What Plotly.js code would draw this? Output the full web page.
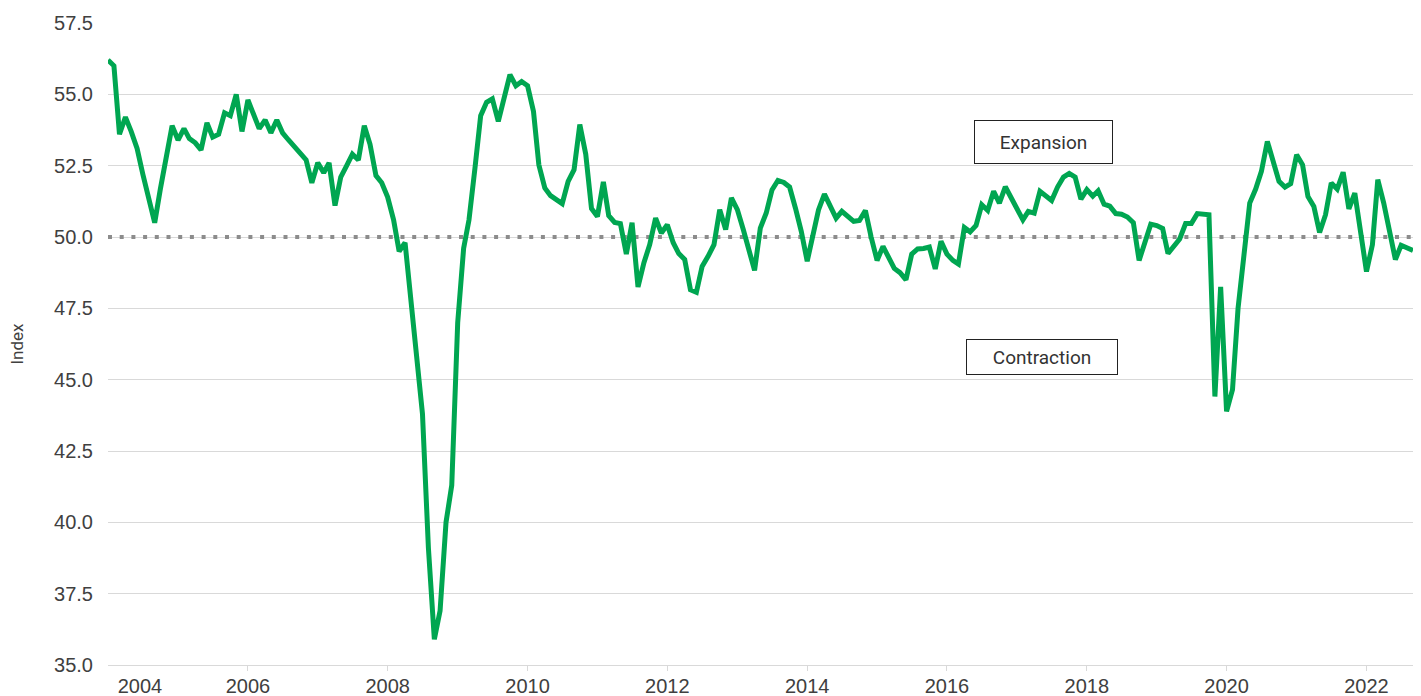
<!DOCTYPE html>
<html>
<head>
<meta charset="utf-8">
<script src="https://cdn.plot.ly/plotly-3.0.1.min.js"></script>
<style>
  html, body { margin: 0; padding: 0; background: #ffffff; }
  #chart { width: 1421px; height: 696px; }
</style>
</head>
<body>
<div id="chart"></div>
<script>
// ---- Data (monthly index readings) ----
const START_YEAR = 2004;
const pmiIndex = [
  56.2,56.0,53.6,54.2,53.7,53.1,52.2,51.3,50.5,51.7,52.8,53.9,
  53.4,53.8,53.45,53.3,53.05,54.0,53.5,53.6,54.35,54.25,55.0,53.7,
  54.8,54.3,53.8,54.1,53.65,54.1,53.65,53.4,53.15,52.95,52.7,51.9,
  52.6,52.25,52.6,51.1,52.1,52.5,52.9,52.7,53.9,53.25,52.15,51.9,
  51.4,50.6,49.5,49.8,47.8,45.9,43.8,39.1,35.9,36.9,40.0,41.3,
  47.0,49.6,50.6,52.4,54.25,54.72,54.84,54.05,54.81,55.69,55.3,55.45,
  55.3,54.4,52.53,51.72,51.45,51.28,51.17,51.95,52.36,53.94,52.9,51.0,
  50.72,51.93,50.75,50.51,50.47,49.4,50.5,48.25,49.1,49.73,50.66,50.14,
  50.43,49.8,49.42,49.21,48.15,48.06,48.97,49.32,49.73,50.96,50.26,51.37,
  50.96,50.26,49.5,48.83,50.31,50.84,51.65,51.98,51.91,51.75,51.0,50.2,
  49.15,50.2,50.95,51.5,51.1,50.66,50.9,50.7,50.55,50.58,50.93,50.0,
  49.18,49.67,49.32,48.9,48.75,48.5,49.4,49.58,49.6,49.65,48.88,49.85,
  49.4,49.18,49.05,50.33,50.18,50.4,51.13,50.93,51.6,51.19,51.76,51.38,
  50.92,50.6,50.9,50.84,51.6,51.45,51.28,51.75,52.1,52.23,52.1,51.33,
  51.66,51.43,51.62,51.15,51.08,50.82,50.8,50.7,50.5,49.18,49.8,50.45,
  50.4,50.3,49.42,49.67,49.93,50.47,50.47,50.82,50.78,50.78,44.41,48.25,
  43.89,44.65,47.5,49.6,51.19,51.68,52.3,53.35,52.65,51.95,51.75,51.87,
  52.88,52.53,51.42,51.07,50.16,50.78,51.89,51.68,52.27,50.99,51.54,50.2,
  48.79,49.73,52.01,51.19,50.14,49.21,49.71,49.62,49.53
];
const THRESHOLD = 50;
const xTickLabels = ['2004','2006','2008','2010','2012','2014','2016','2018','2020','2022'];
const yTickValues = [35, 37.5, 40, 42.5, 45, 47.5, 50, 52.5, 55, 57.5];
const yAxisTitle = 'Index';
const regionLabels = ['Expansion', 'Contraction'];

// ---- Build monthly date categories ----
const months = pmiIndex.map((_, i) => {
  const y = START_YEAR + Math.floor(i / 12);
  const m = (i % 12) + 1;
  return y + '-' + String(m).padStart(2, '0') + '-01';
});
const firstDate = months[0];
const lastDate = months[months.length - 1];

// Tick label positions (first label sits a little inside the plot, as in the reference)
const tickVals = xTickLabels.map((y, k) => k === 0 ? y + '-06-16' : y + '-01-01');
const minorTickVals = xTickLabels.slice(1).map(y => y + '-01-01');

const GREEN = '#00a651';
const GRID = '#d9d9d9';
const TEXT = '#404040';

const traces = [
  {
    type: 'scatter', mode: 'lines',
    x: [firstDate, lastDate],
    y: [THRESHOLD, THRESHOLD],
    line: { color: '#8c8c8c', width: 4, dash: '4px,7.7px' },
    hoverinfo: 'skip'
  },
  {
    type: 'scatter', mode: 'lines',
    x: months, y: pmiIndex,
    line: { color: GREEN, width: 5 },
    hoverinfo: 'skip'
  }
];

const layout = {
  width: 1421, height: 696,
  margin: { l: 108, r: 8, t: 23, b: 31, pad: 0 },
  paper_bgcolor: '#ffffff', plot_bgcolor: '#ffffff',
  showlegend: false,
  font: { family: '"Liberation Sans", Arial, sans-serif', size: 20, color: TEXT },
  xaxis: {
    type: 'date',
    range: [firstDate, lastDate],
    tickmode: 'array', tickvals: tickVals, ticktext: xTickLabels,
    ticks: '', showgrid: false, zeroline: false,
    showline: true, linecolor: GRID, linewidth: 1,
    ticklabelstandoff: 3,
    tickfont: { family: '"Liberation Sans", Arial, sans-serif', size: 20, color: TEXT },
    minor: { tickmode: 'array', tickvals: minorTickVals, ticks: 'outside', ticklen: 5, tickwidth: 1, tickcolor: GRID, showgrid: false },
    automargin: false, fixedrange: true
  },
  yaxis: {
    range: [35, 57.5],
    tickmode: 'array', tickvals: yTickValues,
    ticktext: yTickValues.map(v => v.toFixed(1)),
    ticks: '', showgrid: true, gridcolor: GRID, gridwidth: 1,
    zeroline: false, showline: false,
    ticklabelstandoff: 14,
    tickfont: { family: '"Liberation Sans", Arial, sans-serif', size: 20, color: TEXT },
    title: { text: yAxisTitle, font: { family: 'Roboto, sans-serif', size: 17, color: TEXT }, standoff: 26 },
    automargin: false, fixedrange: true
  },
  annotations: [
    {
      xref: 'paper', yref: 'paper', x: 0.7169, y: 0.8146,
      xanchor: 'center', yanchor: 'middle', showarrow: false,
      text: regionLabels[0],
      font: { family: 'Roboto, sans-serif', size: 19, color: '#333333' },
      bgcolor: '#ffffff', bordercolor: '#222222', borderwidth: 1, borderpad: 1,
      width: 135, height: 40, align: 'center', valign: 'middle'
    },
    {
      xref: 'paper', yref: 'paper', x: 0.7157, y: 0.4805,
      xanchor: 'center', yanchor: 'middle', showarrow: false,
      text: regionLabels[1],
      font: { family: 'Roboto, sans-serif', size: 19, color: '#333333' },
      bgcolor: '#ffffff', bordercolor: '#222222', borderwidth: 1, borderpad: 1,
      width: 148, height: 32, align: 'center', valign: 'middle'
    }
  ]
};

Plotly.newPlot('chart', traces, layout, { staticPlot: true, displayModeBar: false });
</script>
</body>
</html>
